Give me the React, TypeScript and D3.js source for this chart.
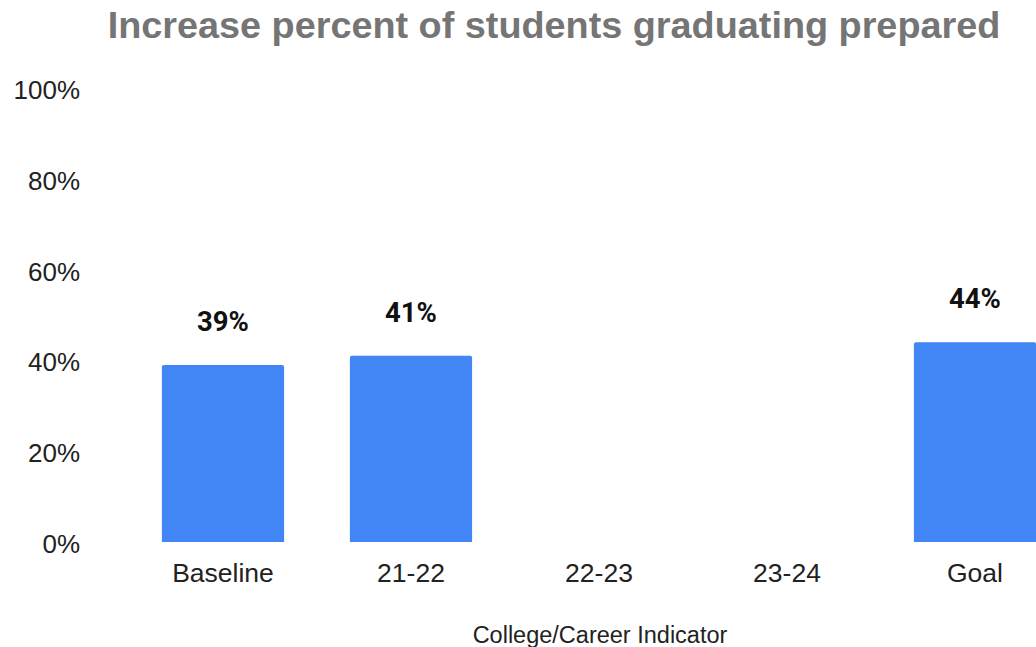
import React from "react";
import * as d3 from "d3";

const categories = ["Baseline", "21-22", "22-23", "23-24", "Goal"];
const values: (number | null)[] = [39, 41, null, null, 44];
const yTicks = [0, 20, 40, 60, 80, 100];
const titleText = "Increase percent of students graduating prepared";
const xTitle = "College/Career Indicator";

const W = 1036;
const H = 647;

export default function App() {
  const x = d3.scaleBand<string>().domain(categories).range([129, 1069]).paddingInner(0.35).paddingOuter(0.175);
  const y = d3.scaleLinear().domain([0, 100]).range([542, 88]);
  const font = "'Liberation Sans', Arial, sans-serif";
  const bw = x.bandwidth();
  const r = 2;
  return (
    <svg width={W} height={H} style={{ position: "absolute", left: 0, top: 0, background: "#fff" }}>
      <text x={554} y={38} textAnchor="middle" fontFamily={font} fontWeight="bold" fontSize={37.8} fill="#757575">
        {titleText}
      </text>
      {yTicks.map((t) => (
        <text key={t} x={80} y={y(t) + 11} textAnchor="end" fontFamily={font} fontSize={26} fill="#222">
          {t}%
        </text>
      ))}
      {categories.map((c, i) => {
        const v = values[i];
        if (v == null) return null;
        const x0 = x(c)!;
        const y0 = y(v);
        const y1 = y(0);
        const path = `M${x0},${y1} L${x0},${y0 + r} Q${x0},${y0} ${x0 + r},${y0} L${x0 + bw - r},${y0} Q${x0 + bw},${y0} ${x0 + bw},${y0 + r} L${x0 + bw},${y1} Z`;
        return <path key={c} d={path} fill="#4285F4" />;
      })}
      {categories.map((c, i) => {
        const v = values[i];
        if (v == null) return null;
        return (
          <text key={c} x={x(c)! + bw / 2} y={y(v) - 34} textAnchor="middle" fontFamily="Roboto, sans-serif" fontWeight="bold" fontSize={27.5} fill="#111">
            {v}%
          </text>
        );
      })}
      {categories.map((c) => (
        <text key={c} x={x(c)! + bw / 2} y={582} textAnchor="middle" fontFamily={font} fontSize={26.5} fill="#222">
          {c}
        </text>
      ))}
      <text x={600} y={643} textAnchor="middle" fontFamily={font} fontSize={23.5} fill="#222">
        {xTitle}
      </text>
    </svg>
  );
}
